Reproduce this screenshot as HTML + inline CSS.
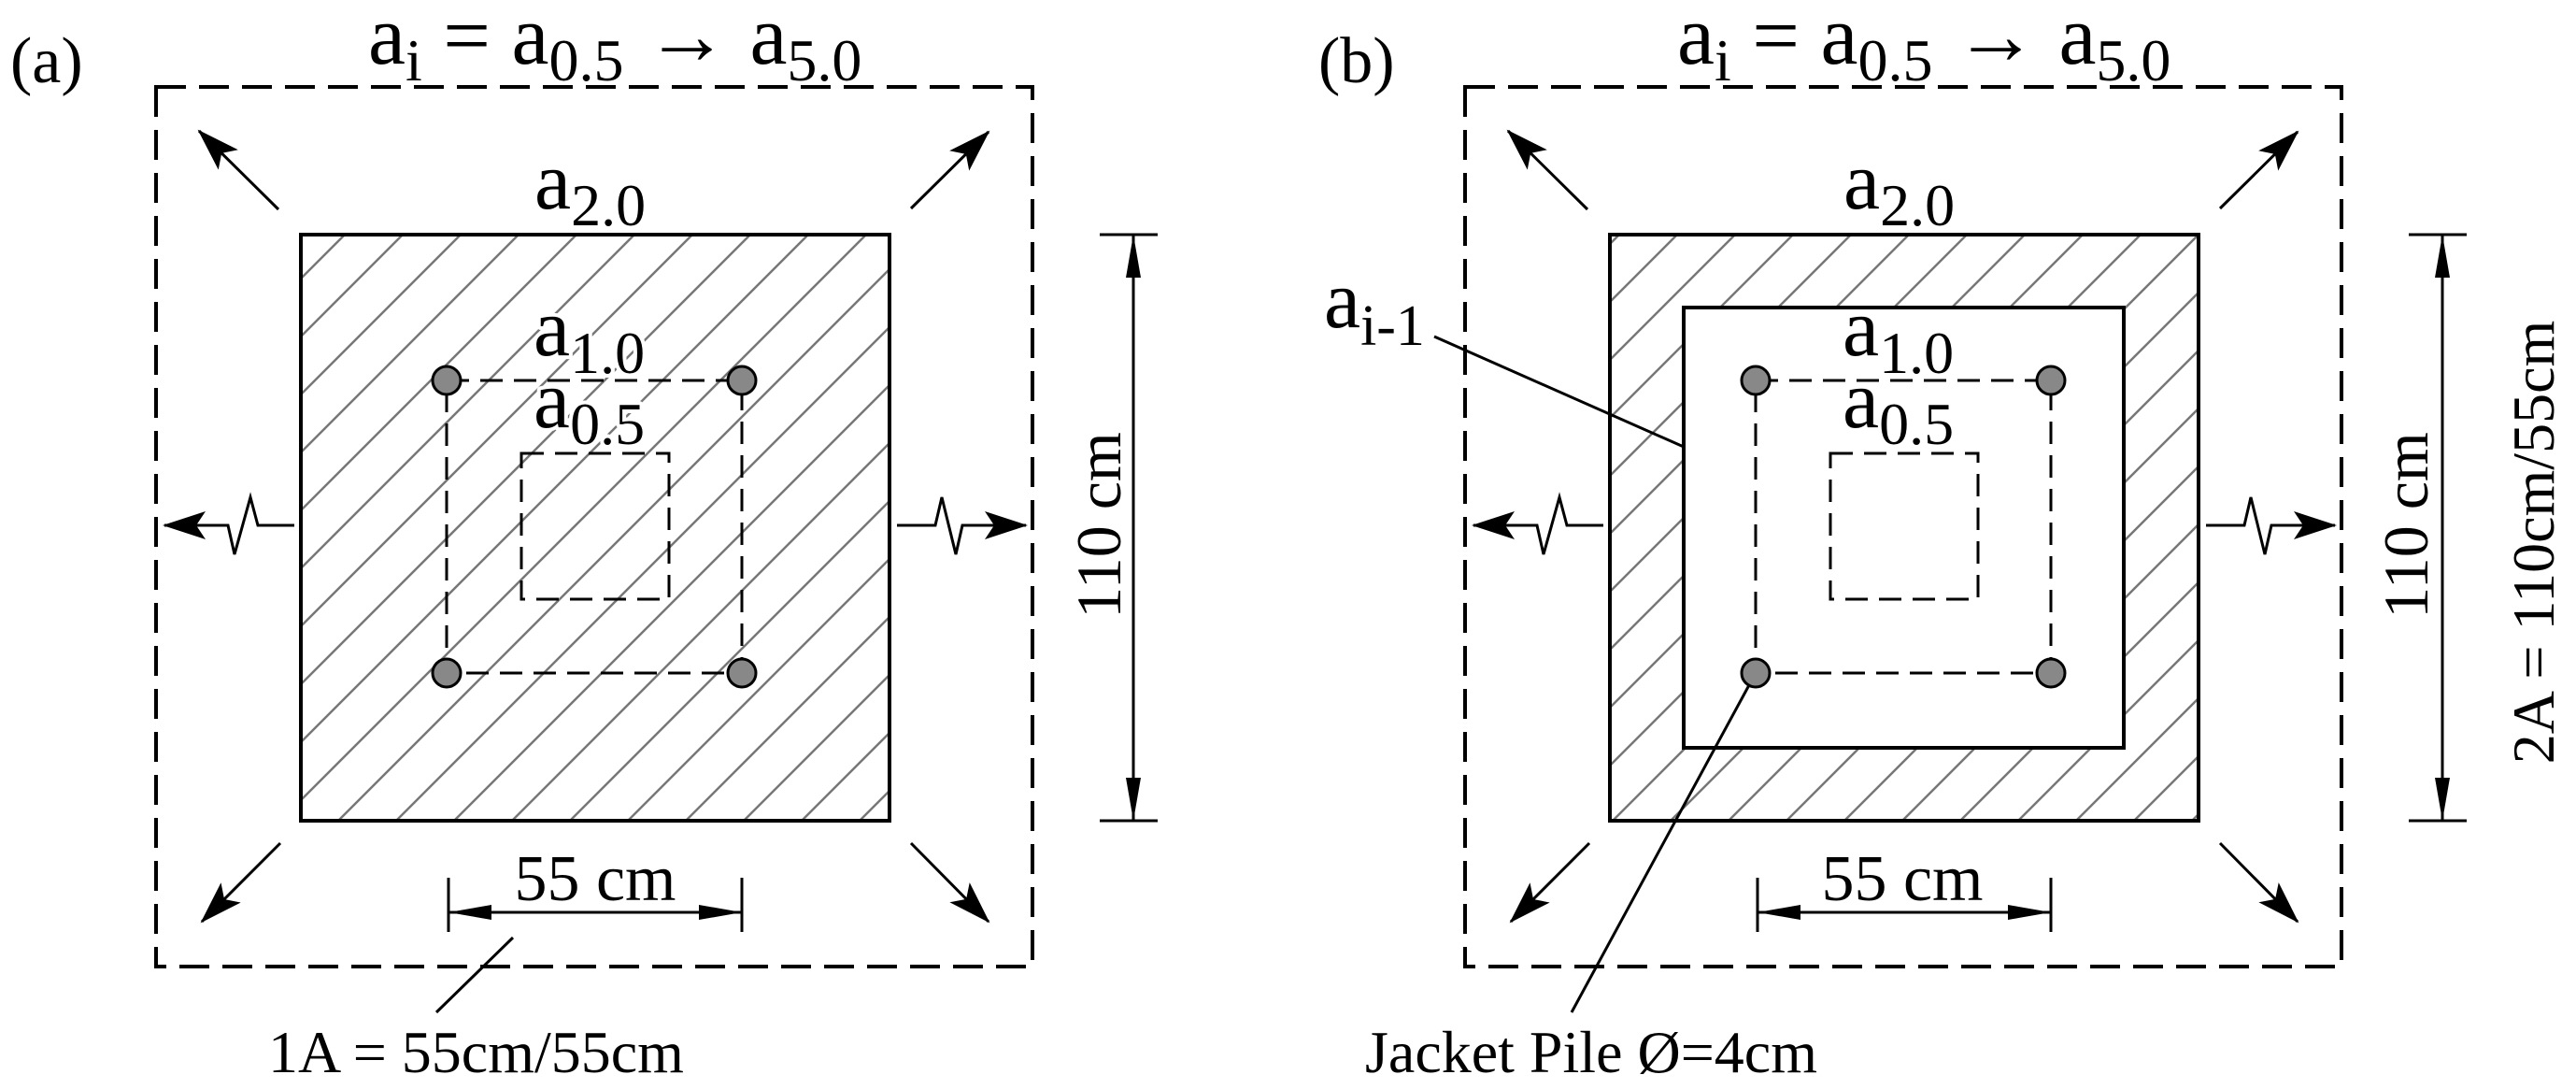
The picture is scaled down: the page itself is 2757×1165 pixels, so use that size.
<!DOCTYPE html>
<html><head><meta charset="utf-8"><style>html,body{margin:0;padding:0;background:#fff}svg{display:block}text{font-family:"Liberation Serif","DejaVu Serif",serif}</style></head>
<body>
<svg width="2757" height="1165" viewBox="0 0 2757 1165" xmlns="http://www.w3.org/2000/svg" style="font-family:'Liberation Serif',serif">
<defs>
<pattern id="h" patternUnits="userSpaceOnUse" width="62" height="62">
<path d="M-5,67 L67,-5 M-36,36 L36,-36 M26,98 L98,26" stroke="#777" stroke-width="2.5"/>
</pattern>
<marker id="ar" markerUnits="userSpaceOnUse" markerWidth="50" markerHeight="34" refX="44" refY="15" orient="auto">
<path d="M0,0 L46,15 L0,30 L10,15 Z" fill="#000"/>
</marker>
<marker id="ad" markerUnits="userSpaceOnUse" markerWidth="50" markerHeight="20" refX="46" refY="8" orient="auto">
<path d="M0,0 L46,8 L0,16 Z" fill="#000"/>
</marker>
<marker id="ad0" markerUnits="userSpaceOnUse" markerWidth="50" markerHeight="20" refX="0" refY="8" orient="auto">
<path d="M46,0 L0,8 L46,16 Z" fill="#000"/>
</marker>
<g id="arrows" stroke="#000" stroke-width="3" fill="none">
<line x1="298" y1="224" x2="213" y2="140" marker-end="url(#ar)"/>
<line x1="975" y1="223" x2="1058" y2="141" marker-end="url(#ar)"/>
<line x1="300" y1="902" x2="216" y2="986" marker-end="url(#ar)"/>
<line x1="975" y1="902" x2="1058" y2="986" marker-end="url(#ar)"/>
<polyline points="315,562 276,562 268,532 251,593 244,562 176,562" marker-end="url(#ar)" stroke-linejoin="miter"/>
<polyline points="960,562 1001,562 1008,532 1023,593 1030,562 1098,562" marker-end="url(#ar)"/>
<rect x="167" y="93" width="938" height="941" stroke-width="4" stroke-dasharray="32 14"/>
<line x1="1177" y1="251" x2="1239" y2="251" stroke-width="3"/>
<line x1="1177" y1="878" x2="1239" y2="878" stroke-width="3"/>
<line x1="1213" y1="251" x2="1213" y2="878" marker-start="url(#ad0)" marker-end="url(#ad)"/>
<line x1="480" y1="976" x2="794" y2="976" marker-start="url(#ad0)" marker-end="url(#ad)"/>
<line x1="480" y1="939" x2="480" y2="997"/>
<line x1="794" y1="939" x2="794" y2="997"/>
</g>
</defs>

<use href="#arrows"/>
<rect x="322" y="251" width="630" height="627" fill="url(#h)" stroke="#000" stroke-width="4"/>
<rect x="478" y="407" width="316" height="313" fill="none" stroke="#000" stroke-width="3" stroke-dasharray="24 12"/>
<rect x="558" y="485" width="158" height="156" fill="none" stroke="#000" stroke-width="3" stroke-dasharray="24 12"/>
<g fill="#888" stroke="#000" stroke-width="3">
<circle cx="478" cy="407" r="15"/><circle cx="794" cy="407" r="15"/><circle cx="478" cy="720" r="15"/><circle cx="794" cy="720" r="15"/>
</g>
<line x1="549" y1="1003" x2="467" y2="1083" stroke="#000" stroke-width="3"/>

<g transform="translate(1401,0)"><use href="#arrows"/></g>
<rect x="1723" y="251" width="630" height="627" fill="url(#h)" stroke="#000" stroke-width="4"/>
<rect x="1802" y="329" width="471" height="471" fill="#fff" stroke="#000" stroke-width="4"/>
<rect x="1879" y="407" width="316" height="313" fill="none" stroke="#000" stroke-width="3" stroke-dasharray="24 12"/>
<rect x="1959" y="485" width="158" height="156" fill="none" stroke="#000" stroke-width="3" stroke-dasharray="24 12"/>
<line x1="1535" y1="360" x2="1802" y2="478" stroke="#000" stroke-width="3"/>
<line x1="1879" y1="720" x2="1682" y2="1083" stroke="#000" stroke-width="3"/>
<g fill="#888" stroke="#000" stroke-width="3">
<circle cx="1879" cy="407" r="15"/><circle cx="2195" cy="407" r="15"/><circle cx="1879" cy="720" r="15"/><circle cx="2195" cy="720" r="15"/>
</g>

<g fill="#000" stroke="#fff" stroke-width="8" paint-order="stroke" stroke-linejoin="round">
<text x="11" y="88" font-size="70" stroke="none">(a)</text>
<text x="1411" y="88" font-size="70" stroke="none">(b)</text>
<text x="394" y="68" font-size="90" stroke="none">a<tspan font-size="64" dy="18">i</tspan><tspan dy="-18"> = a</tspan><tspan font-size="64" dy="18">0.5</tspan><tspan dy="-18"> → a</tspan><tspan font-size="64" dy="18">5.0</tspan></text>
<text x="1795" y="68" font-size="90" stroke="none">a<tspan font-size="64" dy="18">i</tspan><tspan dy="-18"> = a</tspan><tspan font-size="64" dy="18">0.5</tspan><tspan dy="-18"> → a</tspan><tspan font-size="64" dy="18">5.0</tspan></text>

<text x="572" y="223" font-size="88" stroke="none">a<tspan font-size="64" dy="18">2.0</tspan></text>
<text x="571" y="380" font-size="88">a<tspan font-size="64" dy="19">1.0</tspan></text>
<text x="571" y="457" font-size="88">a<tspan font-size="64" dy="18">0.5</tspan></text>
<text x="1973" y="223" font-size="88" stroke="none">a<tspan font-size="64" dy="18">2.0</tspan></text>
<text x="1972" y="380" font-size="88" stroke="none">a<tspan font-size="64" dy="19">1.0</tspan></text>
<text x="1972" y="457" font-size="88" stroke="none">a<tspan font-size="64" dy="18">0.5</tspan></text>
<text x="1417" y="350" font-size="88" stroke="none">a<tspan font-size="62" dy="19">i-1</tspan></text>

<text x="637" y="963" font-size="70" text-anchor="middle" stroke="none">55 cm</text>
<text x="2036" y="963" font-size="70" text-anchor="middle" stroke="none">55 cm</text>
<text transform="translate(1199,562) rotate(-90)" font-size="68" text-anchor="middle" stroke="none">110 cm</text>
<text transform="translate(2598,562) rotate(-90)" font-size="68" text-anchor="middle" stroke="none">110 cm</text>
<text transform="translate(2733,580) rotate(-90)" font-size="64" text-anchor="middle" stroke="none">2A = 110cm/55cm</text>
<text x="287" y="1147" font-size="64" stroke="none">1A = 55cm/55cm</text>
<text x="1461" y="1147" font-size="64" stroke="none">Jacket Pile Ø=4cm</text>
</g>
</svg>
</body></html>
